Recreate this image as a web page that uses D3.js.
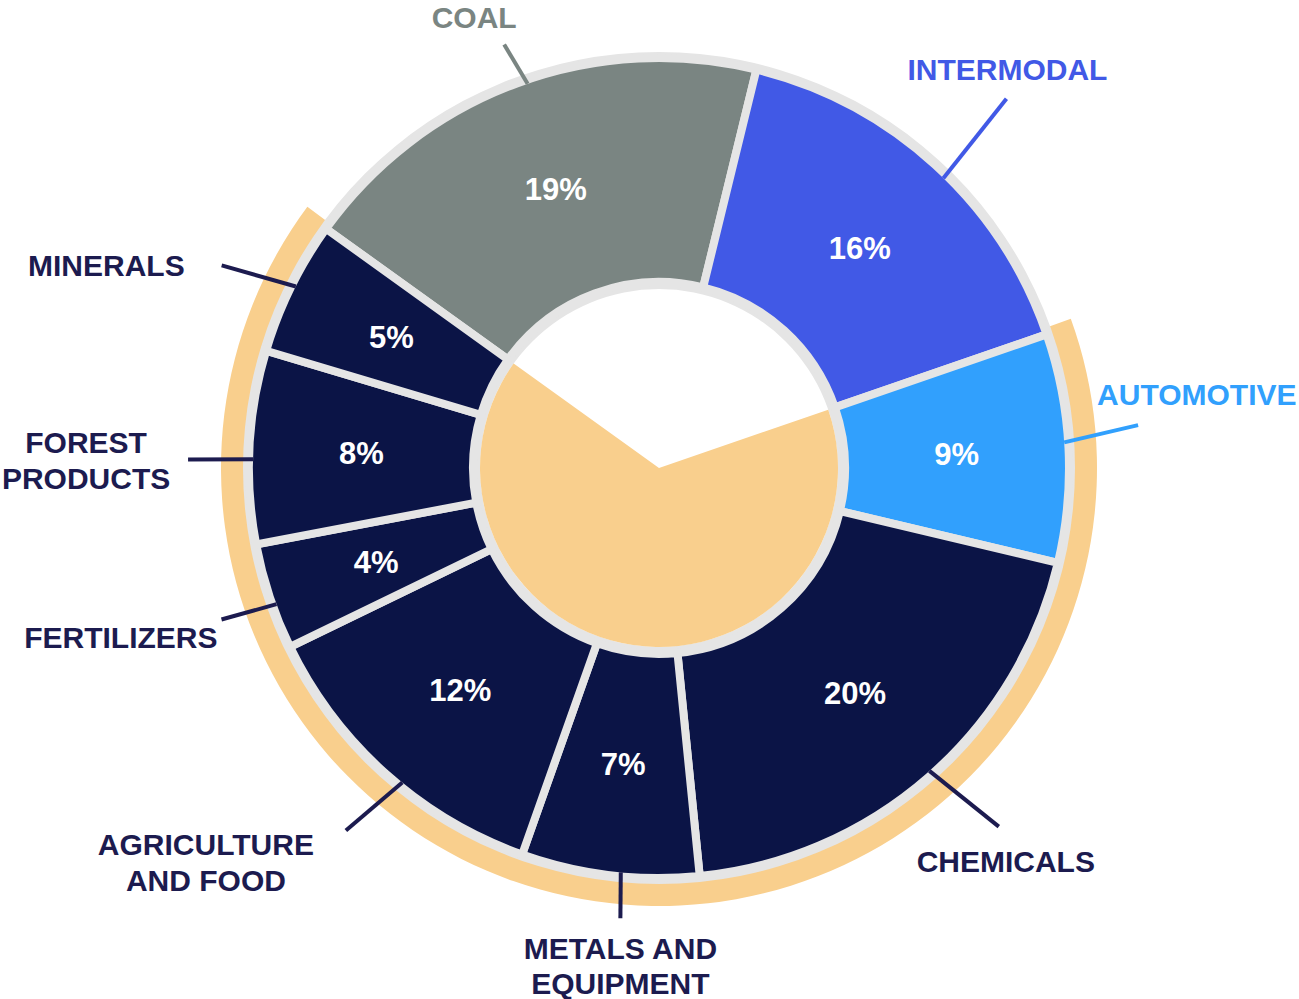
<!DOCTYPE html>
<html>
<head>
<meta charset="utf-8">
<script src="https://cdn.jsdelivr.net/npm/d3@7"></script>
<style>
  body { margin: 0; background: #fff; }
  text { font-family: "Liberation Sans", Arial, sans-serif; font-weight: bold; }
</style>
</head>
<body>
<div id="chart"></div>
<script>
// segment names, shares (%) and which belong to merchandise
const categories = ["COAL", "INTERMODAL", "AUTOMOTIVE", "CHEMICALS", "METALS AND EQUIPMENT",
    "AGRICULTURE AND FOOD", "FERTILIZERS", "FOREST PRODUCTS", "MINERALS"];
const shares = [18.9, 15.9, 9.0, 19.7, 7.0, 12.4, 4.2, 7.6, 5.3];
const merchandise = ["AUTOMOTIVE", "CHEMICALS", "METALS AND EQUIPMENT", "AGRICULTURE AND FOOD",
    "FERTILIZERS", "FOREST PRODUCTS", "MINERALS"];

(() => {
    const width = 1299, height = 999, cx = 659, cy = 468;
    const rIn = 190, rOut = 406, gap = 8;
    const navy = "#0b1446", textNavy = "#1c1b4f", orange = "#f9cf8d", border = "#e5e5e5";

    const fill = {
        "COAL": "#7a8582", "INTERMODAL": "#4159e6", "AUTOMOTIVE": "#31a0fd"
    };
    const labelColor = {
        "COAL": "#7a8582", "INTERMODAL": "#4159e6", "AUTOMOTIVE": "#31a0fd"
    };

    // leader line tweaks (deg offsets from mid angle, outer radius) and text placement
    const callout = {
        "COAL":                 { a1: 1.4,  a2: 0.2,  r2: 451, anchor: "middle", dx: -30,  dy: [-16] },
        "INTERMODAL":           { a1: 2.1,  a2: 0.9,  r2: 507, anchor: "middle", dx: 1,    dy: [-19] },
        "AUTOMOTIVE":           { a1: -0.8, a2: -2.3, r2: 481, anchor: "start",  dx: -41,  dy: [-20] },
        "CHEMICALS":            { a1: -0.6, a2: -2.3, r2: 494, anchor: "middle", dx: 7,    dy: [45] },
        "METALS AND EQUIPMENT": { a1: -1.5, a2: -2.0, r2: 452, anchor: "middle", dx: 0,    dy: [41, 76] },
        "AGRICULTURE AND FOOD": { a1: -2.6, a2: -1.0, r2: 479, anchor: "middle", dx: -140, dy: [25, 61] },
        "FERTILIZERS":          { a1: -1.3, a2: -0.8, r2: 463, anchor: "end",    dx: -4,   dy: [28] },
        "FOREST PRODUCTS":      { a1: -1.7, a2: -1.9, r2: 471, anchor: "middle", dx: -102, dy: [-6, 30] },
        "MINERALS":             { a1: 0.4,  a2: -1.3, r2: 482, anchor: "end",    dx: -37,  dy: [11] }
    };
    const lines = {
        "METALS AND EQUIPMENT": ["METALS AND", "EQUIPMENT"],
        "AGRICULTURE AND FOOD": ["AGRICULTURE", "AND FOOD"],
        "FOREST PRODUCTS": ["FOREST", "PRODUCTS"]
    };

    const data = categories.map((c, i) => ({ name: c, value: shares[i] }));
    const start = -54.3 * Math.PI / 180;
    const arcs = d3.pie().sort(null).value(d => d.value)
        .startAngle(start).endAngle(start + 2 * Math.PI)(data);

    const merch = arcs.filter(a => merchandise.includes(a.data.name));
    const mStart = d3.min(merch, a => a.startAngle), mEnd = d3.max(merch, a => a.endAngle);

    const svg = d3.select("#chart").append("svg")
        .attr("width", width).attr("height", height);
    const g = svg.append("g").attr("transform", `translate(${cx},${cy})`);

    const pad = 0.9 * Math.PI / 180;
    // outer merchandise band
    g.append("path")
        .attr("d", d3.arc()({ innerRadius: 410, outerRadius: 438, startAngle: mStart - pad, endAngle: mEnd + pad }))
        .attr("fill", orange);

    // grey frame ring
    g.append("path")
        .attr("d", d3.arc()({ innerRadius: 179, outerRadius: 416, startAngle: 0, endAngle: 2 * Math.PI }))
        .attr("fill", border);

    // inner merchandise wedge
    g.append("path")
        .attr("d", d3.arc()({ innerRadius: 0, outerRadius: 179, startAngle: mStart, endAngle: mEnd }))
        .attr("fill", orange);

    const arc = d3.arc().innerRadius(rIn - gap / 2).outerRadius(rOut + gap / 2);

    g.selectAll(".slice")
        .data(arcs)
        .enter()
        .append("path")
        .attr("class", "slice")
        .attr("d", arc)
        .attr("fill", d => fill[d.data.name] || navy)
        .attr("stroke", border)
        .attr("stroke-width", gap)
        .attr("stroke-linejoin", "miter");

    g.selectAll(".pct")
        .data(arcs)
        .enter()
        .append("text")
        .attr("class", "pct")
        .attr("transform", d => `translate(${arc.centroid(d)})`)
        .attr("text-anchor", "middle")
        .attr("dy", "0.36em")
        .style("font-size", "31px")
        .style("fill", "#fff")
        .text(d => `${Math.round(d.data.value)}%`);

    const pt = (deg, r) => [r * Math.sin(deg * Math.PI / 180), -r * Math.cos(deg * Math.PI / 180)];

    arcs.forEach(d => {
        const c = callout[d.data.name];
        const mid = (d.startAngle + d.endAngle) / 2 * 180 / Math.PI;
        const p1 = pt(mid + c.a1, 406), p2 = pt(mid + c.a2, c.r2);
        const col = labelColor[d.data.name] || textNavy;

        g.append("line")
            .attr("x1", p1[0]).attr("y1", p1[1])
            .attr("x2", p2[0]).attr("y2", p2[1])
            .attr("stroke", col)
            .attr("stroke-width", 4);

        const txt = lines[d.data.name] || [d.data.name];
        const t = g.append("text")
            .attr("text-anchor", c.anchor)
            .style("font-size", "30px")
            .style("fill", col);
        txt.forEach((s, i) => {
            t.append("tspan")
                .attr("x", p2[0] + c.dx)
                .attr("y", p2[1] + c.dy[i])
                .text(s);
        });
    });
})();
</script>
</body>
</html>
